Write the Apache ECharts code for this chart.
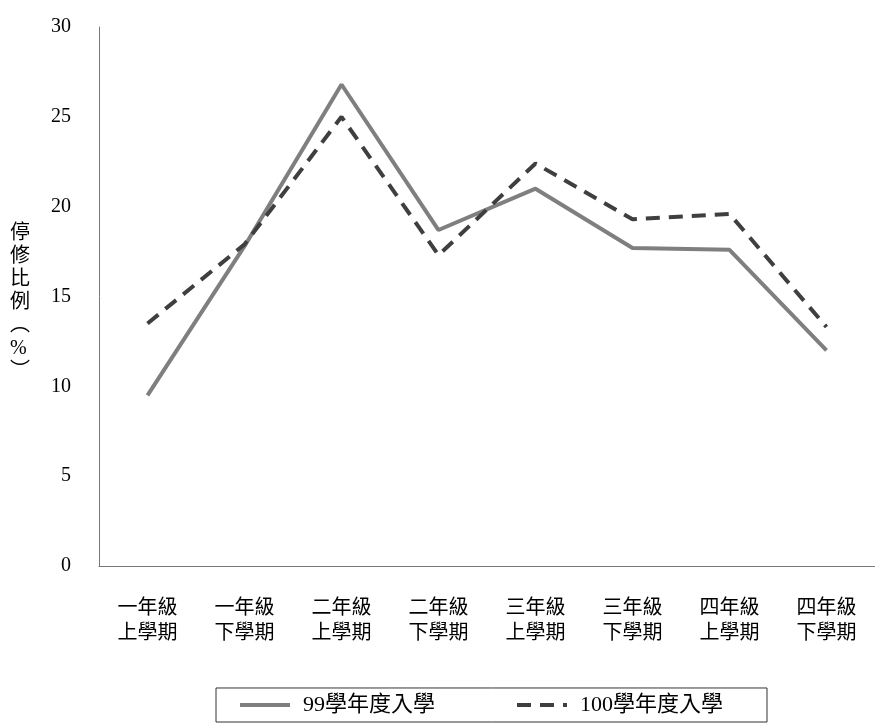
<!DOCTYPE html>
<html>
<head>
<meta charset="utf-8">
<script src="https://cdn.jsdelivr.net/npm/echarts@6/dist/echarts.min.js"></script>
<style>
html,body{margin:0;padding:0;background:#fff;}
#main{width:875px;height:725px;}
</style>
</head>
<body>
<div id="main"></div>
<script>
var categories = ['一年級\n上學期','一年級\n下學期','二年級\n上學期','二年級\n下學期','三年級\n上學期','三年級\n下學期','四年級\n上學期','四年級\n下學期'];
var series99 = [9.5, 17.8, 26.8, 18.7, 21.0, 17.7, 17.6, 12.0];
var series100 = [13.5, 17.9, 25.0, 17.3, 22.4, 19.3, 19.6, 13.3];
var yTicks = {min: 0, max: 30, interval: 5};

var font = "'Liberation Serif','Noto Sans CJK TC',serif";
var myChart = echarts.init(document.getElementById('main'));
var option = {
	animation: false,
	textStyle: {fontFamily: font},
	grid: {left: 99, right: -5, top: 27, bottom: 159},
	legend: {
		bottom: 3,
		left: 216,
		data: ['99學年度入學', '100學年度入學'],
		itemWidth: 50,
		itemHeight: 14,
		itemGap: 80,
		padding: [6, 44, 6, 22],
		borderColor: '#333',
		borderWidth: 1,
		borderRadius: 0,
		itemStyle: {opacity: 0},
		lineStyle: {width: 4},
		textStyle: {fontFamily: font, fontSize: 22, color: '#000', padding: [0, 0, 0, 8]}
	},
	xAxis: {
		type: 'category',
		data: categories,
		boundaryGap: true,
		axisLine: {lineStyle: {color: '#777', width: 1}},
		axisTick: {show: false},
		axisLabel: {color: '#000', fontSize: 20, lineHeight: 25, margin: 30, interval: 0}
	},
	yAxis: {
		type: 'value',
		min: yTicks.min, max: yTicks.max, interval: yTicks.interval,
		axisLine: {show: true, lineStyle: {color: '#777', width: 1}},
		axisTick: {show: false},
		splitLine: {show: false},
		axisLabel: {color: '#000', fontSize: 20, margin: 28}
	},
	graphic: [{
		type: 'text', left: 10, top: 222,
		style: {text: '停\n修\n比\n例\n︵\n%\n︶', fontSize: 20, lineHeight: 23, fill: '#000', fontFamily: font, align: 'center'}
	}],
	series: [{
		name: '99學年度入學', type: 'line', data: series99,
		symbol: 'none', smooth: false,
		lineStyle: {color: '#7f7f7f', width: 4},
		itemStyle: {color: '#7f7f7f'}
	}, {
		name: '100學年度入學', type: 'line', data: series100,
		symbol: 'none', smooth: false,
		lineStyle: {color: '#3f3f3f', width: 4, type: [14, 9]},
		itemStyle: {color: '#3f3f3f'}
	}]
};
myChart.setOption(option, true);
</script>
</body>
</html>
